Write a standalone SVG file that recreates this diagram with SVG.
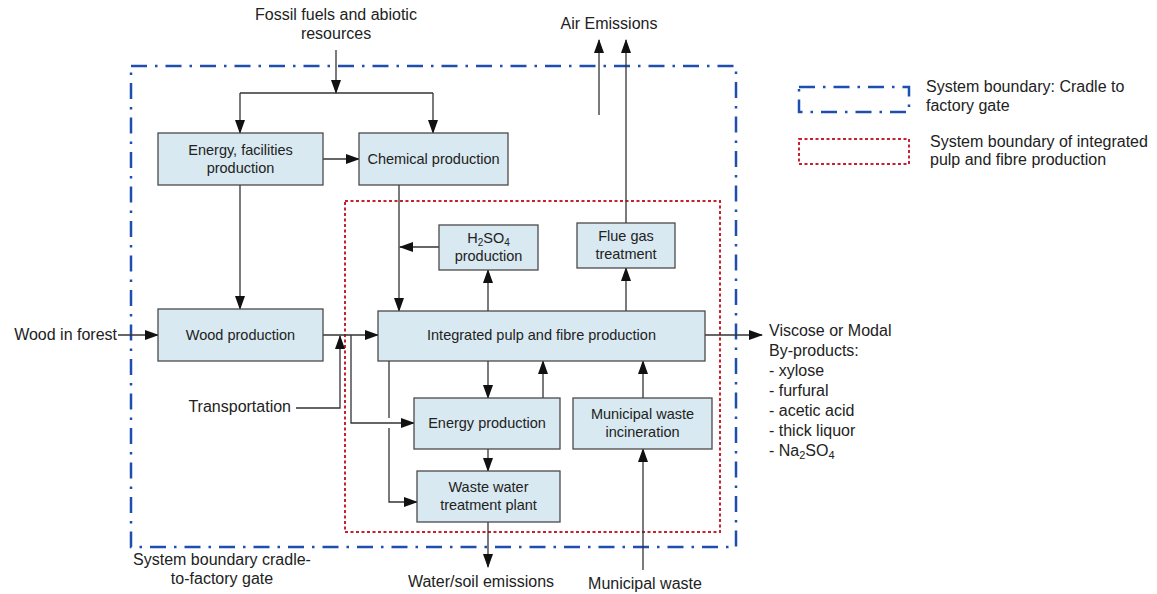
<svg xmlns="http://www.w3.org/2000/svg" width="1157" height="594" viewBox="0 0 1157 594">
<style>
  .box{fill:#d8e9f1;stroke:#4a4a4a;stroke-width:1.3}
  .t{font-family:"Liberation Sans",Arial,sans-serif;font-size:14.5px;fill:#222;text-anchor:middle}
  .lbl{font-family:"Liberation Sans",Arial,sans-serif;font-size:16px;fill:#222}
  .c{fill:none;stroke:#333;stroke-width:1.3}
  .blue{fill:none;stroke:#1f4fae;stroke-width:2.5;stroke-dasharray:16 8 2.5 8}
  .red{fill:none;stroke:#c8202f;stroke-width:2;stroke-dasharray:3 2.5}
</style>
<defs>
  <marker id="ah" markerWidth="14" markerHeight="12" refX="13" refY="5" orient="auto" markerUnits="userSpaceOnUse" viewBox="0 0 14 10">
    <path d="M0,0 L14,5 L0,10 z" fill="#111"/>
  </marker>
</defs>
<rect width="1157" height="594" fill="#fff"/>

<g id="boundaries">
  <rect class="blue" x="131" y="66" width="605" height="481"/>
  <rect class="red" x="345" y="201" width="375" height="331"/>
</g>

<g id="connectors">
  <path class="c" d="M336,50 V93" marker-end="url(#ah)"/>
  <path class="c" d="M240,93 H433"/>
  <path class="c" d="M240,93 V133" marker-end="url(#ah)"/>
  <path class="c" d="M433,93 V133" marker-end="url(#ah)"/>
  <path class="c" d="M323,159 H359" marker-end="url(#ah)"/>
  <path class="c" d="M240,185 V309" marker-end="url(#ah)"/>
  <path class="c" d="M399,185 V311" marker-end="url(#ah)"/>
  <path class="c" d="M439,247 H400" marker-end="url(#ah)"/>
  <path class="c" d="M488,311 V270" marker-end="url(#ah)"/>
  <path class="c" d="M626,311 V268" marker-end="url(#ah)"/>
  <path class="c" d="M626,223 V40" marker-end="url(#ah)"/>
  <path class="c" d="M599,115 V40" marker-end="url(#ah)"/>
  <path class="c" d="M118,335 H158" marker-end="url(#ah)"/>
  <path class="c" d="M323,335 H378" marker-end="url(#ah)"/>
  <path class="c" d="M296,408 H340 V336" marker-end="url(#ah)"/>
  <path class="c" d="M351,335 V423 H414" marker-end="url(#ah)"/>
  <path class="c" d="M389,361 V418"/>
  <path class="c" d="M389,428 V502 H417" marker-end="url(#ah)"/>
  <path class="c" d="M488,361 V398" marker-end="url(#ah)"/>
  <path class="c" d="M543,398 V361" marker-end="url(#ah)"/>
  <path class="c" d="M488,449 V471" marker-end="url(#ah)"/>
  <path class="c" d="M488,522 V567" marker-end="url(#ah)"/>
  <path class="c" d="M643,570 V449" marker-end="url(#ah)"/>
  <path class="c" d="M643,398 V361" marker-end="url(#ah)"/>
  <path class="c" d="M705,335 H762" marker-end="url(#ah)"/>
</g>

<g id="energy-facilities">
  <rect class="box" x="158" y="133" width="165" height="52"/>
  <text class="t" x="240.5" y="155">Energy, facilities</text>
  <text class="t" x="240.5" y="173">production</text>
</g>
<g id="chemical">
  <rect class="box" x="359" y="133" width="149" height="52"/>
  <text class="t" x="433.5" y="164">Chemical production</text>
</g>
<g id="h2so4">
  <rect class="box" x="439" y="225" width="99" height="45"/>
  <text class="t" x="488.5" y="243">H<tspan font-size="10" dy="3">2</tspan><tspan dy="-3">SO</tspan><tspan font-size="10" dy="3">4</tspan></text>
  <text class="t" x="488.5" y="261">production</text>
</g>
<g id="flue-gas">
  <rect class="box" x="577" y="223" width="98" height="45"/>
  <text class="t" x="626" y="241">Flue gas</text>
  <text class="t" x="626" y="259">treatment</text>
</g>
<g id="wood-production">
  <rect class="box" x="158" y="309" width="165" height="52"/>
  <text class="t" x="240.5" y="340">Wood production</text>
</g>
<g id="integrated">
  <rect class="box" x="378" y="311" width="327" height="50"/>
  <text class="t" x="541.5" y="340">Integrated pulp and fibre production</text>
</g>
<g id="energy-production">
  <rect class="box" x="414" y="398" width="146" height="51"/>
  <text class="t" x="487" y="428">Energy production</text>
</g>
<g id="waste-water">
  <rect class="box" x="417" y="471" width="143" height="51"/>
  <text class="t" x="488.5" y="492">Waste water</text>
  <text class="t" x="488.5" y="510">treatment plant</text>
</g>
<g id="municipal-incineration">
  <rect class="box" x="573" y="398" width="139" height="51"/>
  <text class="t" x="642.5" y="419">Municipal waste</text>
  <text class="t" x="642.5" y="437">incineration</text>
</g>

<g id="labels">
  <text class="lbl" x="336" y="20" text-anchor="middle">Fossil fuels and abiotic</text>
  <text class="lbl" x="336" y="39" text-anchor="middle">resources</text>
  <text class="lbl" x="609" y="29" text-anchor="middle">Air Emissions</text>
  <text class="lbl" x="117" y="340" text-anchor="end">Wood in forest</text>
  <text class="lbl" x="291" y="412" text-anchor="end">Transportation</text>
  <text class="lbl" x="481" y="587" text-anchor="middle">Water/soil emissions</text>
  <text class="lbl" x="645" y="589" text-anchor="middle">Municipal waste</text>
  <text class="lbl" x="222" y="565" text-anchor="middle">System boundary cradle-</text>
  <text class="lbl" x="222" y="584" text-anchor="middle">to-factory gate</text>
  <text class="lbl" x="769" y="336">Viscose or Modal</text>
  <text class="lbl" x="769" y="356">By-products:</text>
  <text class="lbl" x="769" y="376">- xylose</text>
  <text class="lbl" x="769" y="396">- furfural</text>
  <text class="lbl" x="769" y="416">- acetic acid</text>
  <text class="lbl" x="769" y="436">- thick liquor</text>
  <text class="lbl" x="769" y="456">- Na<tspan font-size="11" dy="3">2</tspan><tspan dy="-3">SO</tspan><tspan font-size="11" dy="3">4</tspan></text>
</g>

<g id="legend">
  <rect class="blue" x="799" y="87" width="110" height="25"/>
  <text class="lbl" x="926" y="92">System boundary: Cradle to</text>
  <text class="lbl" x="926" y="111">factory gate</text>
  <rect class="red" x="799" y="139" width="110" height="25"/>
  <text class="lbl" x="930" y="147">System boundary of integrated</text>
  <text class="lbl" x="930" y="165">pulp and fibre production</text>
</g>
</svg>
